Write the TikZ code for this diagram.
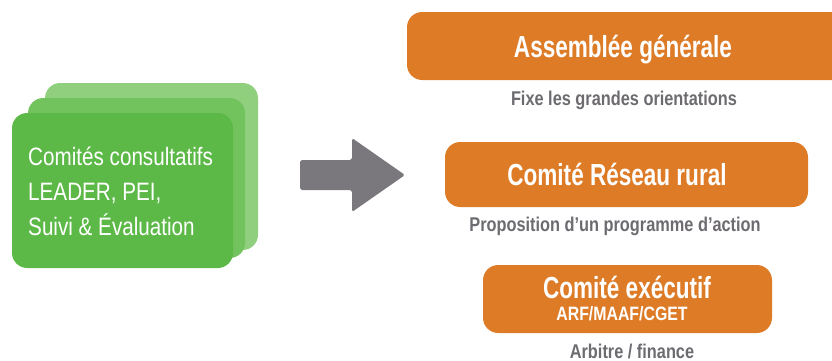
\documentclass[tikz,border=0pt]{standalone}
\usepackage{fontspec}
\setmainfont{Liberation Sans}[FakeStretch=0.82]
\newfontfamily\titrefont{Liberation Sans}[FakeStretch=0.74]
\usetikzlibrary{positioning}

\definecolor{vertAvant}{HTML}{5CB947}
\definecolor{vertMilieu}{HTML}{72C35D}
\definecolor{vertFond}{HTML}{8FCF7E}
\definecolor{orangeBoite}{HTML}{DE7B27}
\definecolor{grisFleche}{HTML}{7A787C}
\definecolor{grisTexte}{HTML}{6D6B70}

\begin{document}
\begin{tikzpicture}[x=0.03cm, y=-0.03cm,
    boite/.style={fill=orangeBoite, rounded corners=13pt},
    titre/.style={text=white, font=\titrefont\bfseries\fontsize{26}{28}\selectfont, anchor=base, inner sep=0pt},
    membres/.style={text=white, font=\bfseries\fontsize{16.5}{18}\selectfont, anchor=base, inner sep=0pt},
    legende/.style={text=grisTexte, font=\bfseries\fontsize{17}{19}\selectfont, anchor=base, inner sep=0pt}]
    \useasboundingbox (0,0) rectangle (832,361);
    \clip (0,0) rectangle (832,361);

    % Pile des comités consultatifs
    \fill[vertFond, rounded corners=13pt] (45,83) rectangle (258,250);
    \fill[vertMilieu, rounded corners=13pt] (28,98) rectangle (245,258);
    \fill[vertAvant, rounded corners=13pt] (12,113) rectangle (233,268);
    \node[text=white, font=\fontsize{21.5}{29.8}\selectfont, align=left, anchor=north west, inner sep=0pt]
        (consultatifs) at (28,147) {Comités consultatifs\\LEADER, PEI,\\Suivi \& Évaluation};

    % Flèche
    \fill[grisFleche, rounded corners=1.5pt] (300,160) -- (352,160) -- (352,138) -- (405,175)
        -- (352,212) -- (352,190) -- (300,190) -- cycle;

    % Boîtes orange
    \fill[boite] (407,12) rectangle (870,80);
    \fill[boite] (445,142) rectangle (808,207);
    \fill[boite] (483,265) rectangle (772,333);

    % Titres et légendes
    \node[titre] (assemblee) at (623,57) {Assemblée générale};
    \node[legende] (orientations) at (624,105) {Fixe les grandes orientations};
    \node[titre] (reseau) at (617,185) {Comité Réseau rural};
    \node[legende] (programme) at (615,231) {Proposition d’un programme d’action};
    \node[titre] (executif) at (627,298) {Comité exécutif};
    \node[membres] (arf) at (622,320) {ARF/MAAF/CGET};
    \node[legende] (arbitre) at (632,358) {Arbitre / finance};
\end{tikzpicture}
\end{document}
